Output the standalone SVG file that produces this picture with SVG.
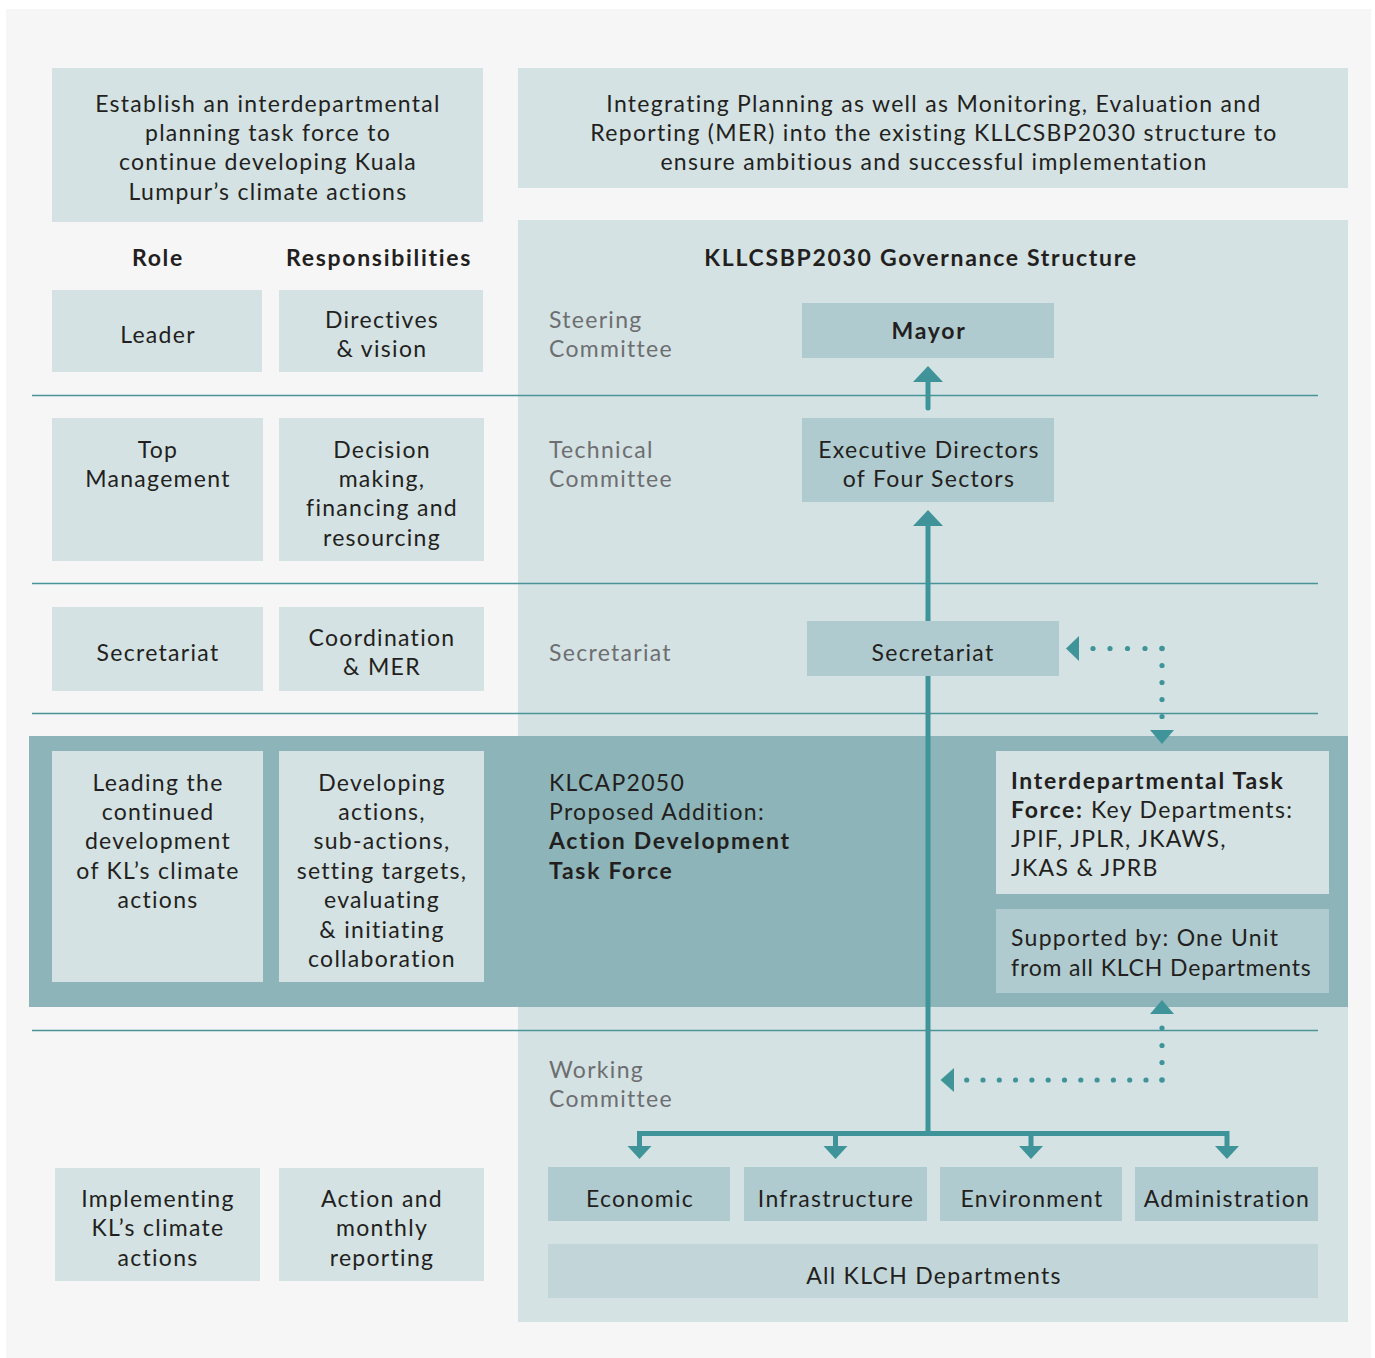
<svg xmlns="http://www.w3.org/2000/svg" width="1375" height="1358" viewBox="0 0 1375 1358">
<defs>
<style>
text{font-family:Lato,"Noto Sans","DejaVu Sans",sans-serif;font-size:23px;letter-spacing:1.3px;fill:#231f20;}
.c{text-anchor:middle;}
.b{font-weight:700;letter-spacing:1.7px;}
.g{fill:#6d6e71;}
.lt{fill:#d4e2e3;}
.md{fill:#b0cbcf;}
.al{fill:#c2d6d9;}
.sep{stroke:#4a9399;stroke-width:1.3;fill:none;}
.arr{stroke:#3f9499;stroke-width:5;fill:none;}
.dot{fill:#3f9499;}
.head{fill:#3f9499;}
</style>
</defs>
<rect x="0" y="0" width="1375" height="1358" fill="#ffffff"/>
<rect x="6" y="9" width="1365" height="1349" fill="#f6f6f6"/>
<rect x="518" y="220" width="830" height="1102" class="lt"/>
<rect x="29" y="736" width="1319" height="271" fill="#8db5b9"/>
<g id="separators">
<line x1="32" y1="395.5" x2="1318" y2="395.5" class="sep"/>
<line x1="32" y1="583.5" x2="1318" y2="583.5" class="sep"/>
<line x1="32" y1="713.5" x2="1318" y2="713.5" class="sep"/>
<line x1="32" y1="1030.5" x2="1318" y2="1030.5" class="sep"/>
</g>

<g id="intro-left">
<rect x="52" y="68" width="431" height="154" class="lt"/>
<text class="c" x="268" y="112">Establish an interdepartmental</text>
<text class="c" x="268" y="141">planning task force to</text>
<text class="c" x="268" y="170">continue developing Kuala</text>
<text class="c" x="268" y="200">Lumpur’s climate actions</text>
</g>
<g id="intro-right">
<rect x="518" y="68" width="830" height="120" class="lt"/>
<text class="c" x="934" y="112">Integrating Planning as well as Monitoring, Evaluation and</text>
<text class="c" x="934" y="141">Reporting (MER) into the existing KLLCSBP2030 structure to</text>
<text class="c" x="934" y="170">ensure ambitious and successful implementation</text>
</g>
<g id="headers">
<text class="c b" x="158" y="266">Role</text>
<text class="c b" x="379" y="266">Responsibilities</text>
<text class="c b" x="921" y="266">KLLCSBP2030 Governance Structure</text>
</g>

<g id="role-leader">
<rect x="52" y="290" width="210" height="82" class="lt"/>
<text class="c" x="158" y="343">Leader</text>
</g>
<g id="resp-leader">
<rect x="279" y="290" width="204" height="82" class="lt"/>
<text class="c" x="382" y="328">Directives</text>
<text class="c" x="382" y="357">&amp; vision</text>
</g>
<g id="label-steering">
<text class="g" x="549" y="328">Steering</text>
<text class="g" x="549" y="357">Committee</text>
</g>
<g id="mayor">
<rect x="802" y="303" width="252" height="55" class="md"/>
<text class="c b" x="929" y="339">Mayor</text>
</g>

<g id="role-top">
<rect x="52" y="418" width="211" height="143" class="lt"/>
<text class="c" x="158" y="458">Top</text>
<text class="c" x="158" y="487">Management</text>
</g>
<g id="resp-top">
<rect x="279" y="418" width="205" height="143" class="lt"/>
<text class="c" x="382" y="458">Decision</text>
<text class="c" x="382" y="487">making,</text>
<text class="c" x="382" y="516">financing and</text>
<text class="c" x="382" y="546">resourcing</text>
</g>
<g id="label-technical">
<text class="g" x="549" y="458">Technical</text>
<text class="g" x="549" y="487">Committee</text>
</g>
<g id="exec">
<rect x="802" y="418" width="252" height="84" class="md"/>
<text class="c" x="929" y="458">Executive Directors</text>
<text class="c" x="929" y="487">of Four Sectors</text>
</g>

<g id="role-secretariat">
<rect x="52" y="607" width="211" height="84" class="lt"/>
<text class="c" x="158" y="661">Secretariat</text>
</g>
<g id="resp-secretariat">
<rect x="279" y="607" width="205" height="84" class="lt"/>
<text class="c" x="382" y="646">Coordination</text>
<text class="c" x="382" y="675">&amp; MER</text>
</g>
<g id="label-secretariat">
<text class="g" x="549" y="661">Secretariat</text>
</g>
<g id="secretariat">
<rect x="807" y="621" width="252" height="55" class="md"/>
<text class="c" x="933" y="661">Secretariat</text>
</g>

<g id="role-taskforce">
<rect x="52" y="751" width="211" height="231" class="lt"/>
<text class="c" x="158" y="791">Leading the</text>
<text class="c" x="158" y="820">continued</text>
<text class="c" x="158" y="849">development</text>
<text class="c" x="158" y="879">of KL’s climate</text>
<text class="c" x="158" y="908">actions</text>
</g>
<g id="resp-taskforce">
<rect x="279" y="751" width="205" height="231" class="lt"/>
<text class="c" x="382" y="791">Developing</text>
<text class="c" x="382" y="820">actions,</text>
<text class="c" x="382" y="849">sub-actions,</text>
<text class="c" x="382" y="879">setting targets,</text>
<text class="c" x="382" y="908">evaluating</text>
<text class="c" x="382" y="938">&amp; initiating</text>
<text class="c" x="382" y="967">collaboration</text>
</g>
<g id="label-klcap">
<text x="549" y="791">KLCAP2050</text>
<text x="549" y="820">Proposed Addition:</text>
<text class="b" x="549" y="849">Action Development</text>
<text class="b" x="549" y="879">Task Force</text>
</g>
<g id="interdept">
<rect x="996" y="751" width="333" height="143" class="lt"/>
<text x="1011" y="789"><tspan class="b">Interdepartmental Task</tspan></text>
<text x="1011" y="818"><tspan class="b">Force:</tspan> Key Departments:</text>
<text x="1011" y="847">JPIF, JPLR, JKAWS,</text>
<text x="1011" y="876">JKAS &amp; JPRB</text>
</g>
<g id="supported">
<rect x="996" y="909" width="333" height="84" class="md"/>
<text x="1011" y="946">Supported by: One Unit</text>
<text x="1011" y="976" style="letter-spacing:0.85px">from all KLCH Departments</text>
</g>

<g id="label-working">
<text class="g" x="549" y="1078">Working</text>
<text class="g" x="549" y="1107">Committee</text>
</g>
<g id="role-implementing">
<rect x="55" y="1168" width="205" height="113" class="lt"/>
<text class="c" x="158" y="1207">Implementing</text>
<text class="c" x="158" y="1236">KL’s climate</text>
<text class="c" x="158" y="1266">actions</text>
</g>
<g id="resp-implementing">
<rect x="279" y="1168" width="205" height="113" class="lt"/>
<text class="c" x="382" y="1207">Action and</text>
<text class="c" x="382" y="1236">monthly</text>
<text class="c" x="382" y="1266">reporting</text>
</g>
<g id="economic">
<rect x="548" y="1167" width="182" height="54" class="md"/>
<text class="c" x="640" y="1207">Economic</text>
</g>
<g id="infrastructure">
<rect x="744" y="1167" width="183" height="54" class="md"/>
<text class="c" x="836" y="1207">Infrastructure</text>
</g>
<g id="environment">
<rect x="940" y="1167" width="182" height="54" class="md"/>
<text class="c" x="1032" y="1207">Environment</text>
</g>
<g id="administration">
<rect x="1135" y="1167" width="183" height="54" class="md"/>
<text class="c" x="1227" y="1207">Administration</text>
</g>
<g id="all-klch">
<rect x="548" y="1244" width="770" height="54" class="al"/>
<text class="c" x="934" y="1284">All KLCH Departments</text>
</g>

<g id="connectors">
<line x1="928" y1="381" x2="928" y2="408" class="arr" stroke-linecap="round"/>
<polygon points="913,382 943,382 928,366" class="head"/>
<line x1="928" y1="525" x2="928" y2="621" class="arr"/>
<polygon points="913,526 943,526 928,510" class="head"/>
<line x1="928" y1="676" x2="928" y2="1136" class="arr"/>
<path d="M639.5,1147 V1133.5 H1227 V1147" class="arr"/>
<line x1="835.5" y1="1133" x2="835.5" y2="1147" class="arr"/>
<line x1="1031" y1="1133" x2="1031" y2="1147" class="arr"/>
<polygon points="627.5,1146 651.5,1146 639.5,1159" class="head"/>
<polygon points="823.5,1146 847.5,1146 835.5,1159" class="head"/>
<polygon points="1019,1146 1043,1146 1031,1159" class="head"/>
<polygon points="1215,1146 1239,1146 1227,1159" class="head"/>
<g id="dotted-top">
<polygon points="1079,636 1079,661 1066,648.5" class="head"/>
<circle cx="1093" cy="648.5" r="2.6" class="dot"/>
<circle cx="1110" cy="648.5" r="2.6" class="dot"/>
<circle cx="1127.5" cy="648.5" r="2.6" class="dot"/>
<circle cx="1145" cy="648.5" r="2.6" class="dot"/>
<circle cx="1162" cy="648.5" r="2.8" class="dot"/>
<circle cx="1162" cy="665.5" r="2.6" class="dot"/>
<circle cx="1162" cy="682.5" r="2.6" class="dot"/>
<circle cx="1162" cy="699.5" r="2.6" class="dot"/>
<circle cx="1162" cy="716.5" r="2.6" class="dot"/>
<polygon points="1150,730 1174,730 1162,744" class="head"/>
</g>
<g id="dotted-bottom">
<polygon points="1150,1014 1174,1014 1162,1000" class="head"/>
<circle cx="1162" cy="1028" r="2.6" class="dot"/>
<circle cx="1162" cy="1045.5" r="2.6" class="dot"/>
<circle cx="1162" cy="1062.5" r="2.6" class="dot"/>
<circle cx="1162" cy="1080" r="2.8" class="dot"/>
<circle cx="1146" cy="1080" r="2.6" class="dot"/>
<circle cx="1129.7" cy="1080" r="2.6" class="dot"/>
<circle cx="1113.4" cy="1080" r="2.6" class="dot"/>
<circle cx="1097.1" cy="1080" r="2.6" class="dot"/>
<circle cx="1080.8" cy="1080" r="2.6" class="dot"/>
<circle cx="1064.5" cy="1080" r="2.6" class="dot"/>
<circle cx="1048.2" cy="1080" r="2.6" class="dot"/>
<circle cx="1031.9" cy="1080" r="2.6" class="dot"/>
<circle cx="1015.6" cy="1080" r="2.6" class="dot"/>
<circle cx="999.3" cy="1080" r="2.6" class="dot"/>
<circle cx="983" cy="1080" r="2.6" class="dot"/>
<circle cx="966.7" cy="1080" r="2.6" class="dot"/>
<polygon points="954,1068 954,1092 940.5,1080" class="head"/>
</g>
</g>
</svg>
